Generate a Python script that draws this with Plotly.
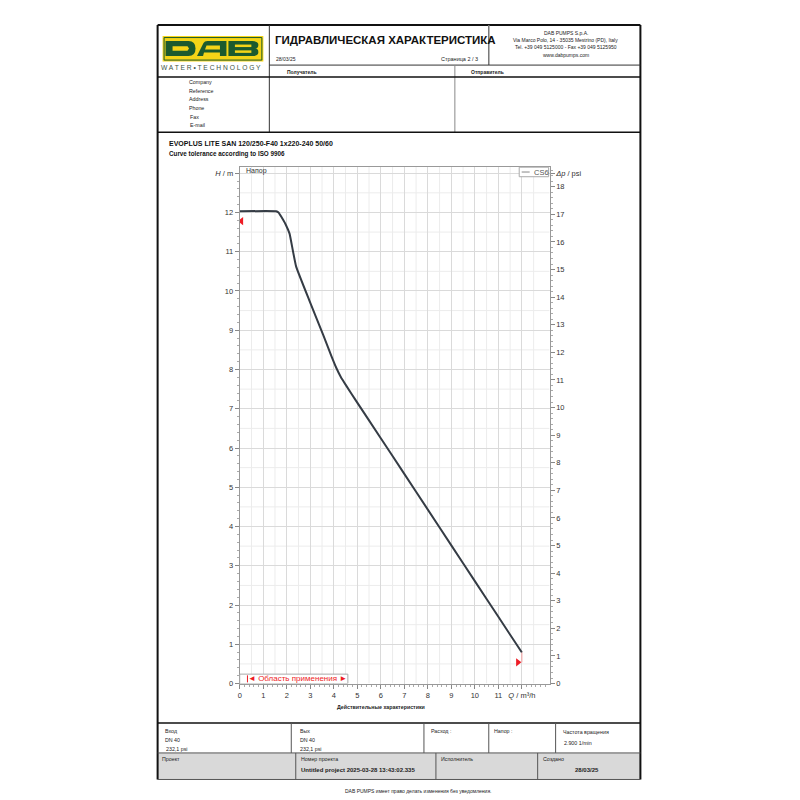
import plotly.graph_objects as go

# ---------------- data ----------------
flow_q = [0, 1.55, 1.65, 1.77, 1.95, 2.12, 2.26, 2.40, 2.96, 3.55, 3.9, 4.1, 4.3, 4.55, 4.95,
          6, 7, 8, 9, 10, 11, 12]
head_h = [12.03, 12.03, 12.0, 11.89, 11.7, 11.46, 11.03, 10.62, 9.76, 8.88, 8.34, 8.05,
          7.81, 7.57, 7.2, 6.25, 5.34, 4.43, 3.52, 2.61, 1.70, 0.79]
series_name = "CS6"
tol_q = [0.07, 11.83]
tol_h = [11.78, 0.54]
x_ticks = [str(i) for i in range(12)] + ["<i>Q</i> / m³/h"]
h_ticks = [str(i) for i in range(13)] + ["<i>H</i> / m"]
psi_ticks = [str(i) for i in range(19)] + ["<i>Δp</i> / psi"]
M_TO_PSI = 1.42233
app_range = [0, 4.6]

FONT = "Liberation Sans, Arial, sans-serif"
W = H = 800
HE = 794.0  # effective rendered height used for conversions

fig = go.Figure()
fig.add_trace(go.Scatter(x=flow_q, y=head_h, mode="lines", name=series_name,
                         line=dict(color="#353c45", width=2, shape="spline", smoothing=0.35),
                         showlegend=False, hoverinfo="skip"))
fig.add_trace(go.Scatter(x=[tol_q[0]], y=[tol_h[0]], mode="markers",
                         marker=dict(symbol="triangle-left", size=7, color="#ee1c25"),
                         showlegend=False, hoverinfo="skip"))
fig.add_trace(go.Scatter(x=[tol_q[1]], y=[tol_h[1]], mode="markers",
                         marker=dict(symbol="triangle-right", size=7, color="#ee1c25"),
                         showlegend=False, hoverinfo="skip"))
fig.add_trace(go.Scatter(x=[flow_q[-1], flow_q[-1]], y=[head_h[-1], tol_h[1]], mode="lines",
                         line=dict(color="#f4a0a0", width=1), showlegend=False, hoverinfo="skip"))
fig.add_trace(go.Scatter(x=[0], y=[0], yaxis="y2", mode="markers", marker=dict(opacity=0),
                         showlegend=False, hoverinfo="skip"))

shapes = []
ann = []


def px(x):
    return x / W


def py(y):
    return 1 - y / HE


def line(x0, y0, x1, y1, c="#222", w=1):
    shapes.append(dict(type="line", xref="paper", yref="paper", x0=px(x0), y0=py(y0),
                       x1=px(x1), y1=py(y1), line=dict(color=c, width=w), layer="above"))


def rect(x0, y0, x1, y1, fill, c=None, w=0, layer="below"):
    shapes.append(dict(type="rect", xref="paper", yref="paper", x0=px(x0), y0=py(y0),
                       x1=px(x1), y1=py(y1), fillcolor=fill,
                       line=dict(color=c or fill, width=w), layer=layer))


def path(segs, fill):
    out = []
    for s in segs:
        cmd = s[0]
        nums = s[1:]
        pts = []
        for i in range(0, len(nums), 2):
            pts.append(f"{px(nums[i]):.5f},{py(nums[i+1]):.5f}")
        out.append(cmd + " ".join(pts))
    shapes.append(dict(type="path", xref="paper", yref="paper", path=" ".join(out),
                       fillcolor=fill, line=dict(width=0), layer="above"))


def text(x, y, s, size=5.5, bold=False, anchor="left", color="#222"):
    if bold:
        s = f"<b>{s}</b>"
    ann.append(dict(x=px(x), y=py(y), xref="paper", yref="paper", text=s, showarrow=False,
                    xanchor=anchor, yanchor="middle",
                    font=dict(family=FONT, size=size, color=color)))


# ---------------- page frame ----------------
rect(156, 752, 640, 778.5, "#d9d9d9")
line(156, 25, 640, 25, "#111", 2)
line(156, 25, 156, 778.5, "#111", 2)
line(640, 25, 640, 778.5, "#111", 2)
line(156, 778.5, 640, 778.5, "#555", 1)
line(268, 25, 268, 132, "#333", 1)
line(488, 25, 488, 65, "#777", 1.5)
line(268, 65, 640, 65, "#333", 1)
line(454, 65, 454, 132, "#888", 1)
line(156, 77, 640, 77, "#111", 1.5)
line(156, 132, 640, 132, "#111", 1.5)
line(156, 722, 640, 722, "#111", 1.5)
for xx in (290, 423, 488, 555):
    line(xx, 722, xx, 752, "#555", 1)
line(156, 752, 640, 752, "#555", 1)
for xx in (294.5, 435, 537):
    line(xx, 752, xx, 778.5, "#555", 1)

# ---------------- logo ----------------
YEL = "#f5d417"
GRN = "#1c5a2e"
rect(161, 36, 262, 61.5, YEL, layer="above")
shapes.append(dict(type="rect", xref="paper", yref="paper", x0=px(162.5), y0=py(37.5),
                   x1=px(260.5), y1=py(60), line=dict(color=GRN, width=1), layer="above"))
# D
path([("M", 164, 41), ("L", 187, 41), ("Q", 194, 41, 194, 48.5), ("Q", 194, 56, 187, 56),
      ("L", 164, 56), ("Z",)], GRN)
path([("M", 171, 46.3), ("L", 186, 46.3), ("L", 187.5, 48.5), ("L", 186, 50.7), ("L", 171, 50.7), ("Z",)], YEL)
# A
path([("M", 195.5, 56), ("L", 202, 43), ("Q", 203, 41, 206, 41), ("L", 225, 41), ("L", 225, 56), ("Z",)], GRN)
path([("M", 205, 45.5), ("L", 218.5, 45.5), ("L", 218.5, 49.5), ("L", 203.5, 49.5), ("Z",)], YEL)
path([("M", 202.5, 52.5), ("L", 218.5, 52.5), ("L", 218.5, 56.2), ("L", 201.5, 56.2), ("Z",)], YEL)
# B
path([("M", 227, 41), ("L", 251, 41), ("Q", 257, 41, 257, 44.8), ("Q", 257, 48.5, 254, 48.5),
      ("Q", 257, 48.5, 257, 52.2), ("Q", 257, 56, 251, 56), ("L", 227, 56), ("Z",)], GRN)
path([("M", 233.5, 44.5), ("L", 250, 44.5), ("L", 250, 47), ("L", 233.5, 47), ("Z",)], YEL)
path([("M", 233.5, 50.3), ("L", 250, 50.3), ("L", 250, 52.8), ("L", 233.5, 52.8), ("Z",)], YEL)
text(210, 67.5, "W A T E R • T E C H N O L O G Y", 6.7, anchor="center", color="#3d5546")

# ---------------- header texts ----------------
text(272, 40, "ГИДРАВЛИЧЕСКАЯ ХАРАКТЕРИСТИКА", 11.5, bold=True, color="#111")
text(273, 58.5, "28/03/25", 5)
text(438, 58.5, "Страница 2 / 3", 5.5)
text(565, 33, "DAB PUMPS S.p.A.", 5, anchor="center")
text(565, 40, "Via Marco Polo, 14 - 35035 Mestrino (PD), Italy", 5, anchor="center")
text(565, 47, "Tel. +39 049 5125000 - Fax +39 049 5125950", 5, anchor="center")
text(565, 54.5, "www.dabpumps.com", 5, anchor="center")
text(284, 72, "Получатель", 5, bold=True)
text(468, 72, "Отправитель", 5, bold=True)
for lbl, yy, xx in [("Company", 82, 185), ("Reference", 90.5, 185), ("Address", 99.3, 185),
                    ("Phone", 108, 185), ("Fax", 116.5, 186), ("E-mail", 124.5, 186)]:
    text(xx, yy, lbl, 5.3)
text(165, 143.3, "EVOPLUS LITE SAN 120/250-F40 1x220-240 50/60", 7, bold=True, color="#111")
text(165, 153.5, "Curve tolerance according to ISO 9906", 6.3, bold=True, color="#111")

# ---------------- bottom blocks ----------------
text(161, 730, "Вход", 5.3)
text(161, 739, "DN 40", 5.3)
text(162, 748.3, "232,1 psi", 5.3)
text(296.5, 730, "Вых", 5.3)
text(296.5, 739, "DN 40", 5.3)
text(297, 748.3, "232,1 psi", 5.3)
text(428, 730, "Расход :", 5.3)
text(491.5, 730, "Напор :", 5.3)
text(560, 731, "Частота вращения", 5.3)
text(561.5, 741.7, "2.900 1/min", 5.3)
text(158, 757.7, "Проект", 5.3)
text(297.5, 757.7, "Номер проекта", 5.3)
text(297.5, 769, "Untitled project 2025-03-28 13:43:02.335", 6, bold=True)
text(438, 757.7, "Исполнитель", 5.3)
text(540, 757.7, "Создано", 5.3)
text(586, 769, "28/03/25", 6, bold=True, anchor="center")
text(418, 790, "DAB PUMPS имеет право делать изменения без уведомления.", 5, anchor="center")

# ---------------- chart extras ----------------
XR = [0, 13.18]
YR = [0, 13.16]
for v in [i + 0.5 for i in range(13)]:
    if v < XR[1]:
        shapes.append(dict(type="line", xref="x", yref="y", x0=v, x1=v, y0=YR[0], y1=YR[1],
                           line=dict(color="#ececec", width=1), layer="below"))
    if v < YR[1]:
        shapes.append(dict(type="line", xref="x", yref="y", x0=XR[0], x1=XR[1], y0=v, y1=v,
                           line=dict(color="#ececec", width=1), layer="below"))
shapes.append(dict(type="rect", xref="x", yref="y", x0=app_range[0], x1=app_range[1], y0=0, y1=0.24,
                   fillcolor="white", line=dict(color="#aaaaaa", width=1), layer="above"))
shapes.append(dict(type="line", xref="x", yref="y", x0=0.33, x1=0.33, y0=0.03, y1=0.21,
                   line=dict(color="#ee1c25", width=1), layer="above"))
ann.append(dict(x=2.45, y=0.125, xref="x", yref="y", text="◄ Область применения ►", showarrow=False,
                xanchor="center", yanchor="middle", font=dict(family=FONT, size=8, color="#ee1c25")))
ann.append(dict(x=0.2, y=py(170.7), xref="x", yref="paper", text="Напор", showarrow=False,
                xanchor="left", yanchor="middle", font=dict(family=FONT, size=7, color="#333")))
rect(518.5, 167, 548, 176.5, "white", "#aaaaaa", 1, layer="above")
line(521, 171.8, 529, 171.8, "#888", 1)
text(531, 171.8, series_name, 7.5, color="#555")
text(380, 706, "Действительные характеристики", 5.3, bold=True, anchor="center")

axis_font = dict(family=FONT, size=7.5, color="#333")
fig.update_layout(
    width=W, height=H, margin=dict(l=0, r=0, t=0, b=0),
    paper_bgcolor="white", plot_bgcolor="white",
    showlegend=False,
    shapes=shapes, annotations=ann,
    xaxis=dict(domain=[238.3 / W, 549 / W], range=XR, tickmode="array",
               tickvals=list(range(13)), ticktext=x_ticks, ticks="outside", ticklen=4,
               tickcolor="#888", showline=True, linecolor="#999", mirror=True,
               showgrid=True, gridcolor="#dadada", zeroline=False, tickfont=axis_font,
               minor=dict(tickmode="linear", tick0=0, dtick=0.2, ticks="outside", ticklen=2,
                          tickcolor="#aaa", showgrid=False)),
    yaxis=dict(domain=[py(682.7), py(166.7)], range=YR, tickmode="array",
               tickvals=list(range(14)), ticktext=h_ticks, ticks="outside", ticklen=4,
               tickcolor="#888", showline=True, linecolor="#999", mirror=True,
               showgrid=True, gridcolor="#dadada", zeroline=False, tickfont=axis_font,
               minor=dict(tickmode="linear", tick0=0, dtick=0.2, ticks="outside", ticklen=2,
                          tickcolor="#aaa", showgrid=False)),
    yaxis2=dict(overlaying="y", side="right", range=[YR[0] * M_TO_PSI, YR[1] * M_TO_PSI],
                tickmode="array", tickvals=list(range(19)) + [13 * M_TO_PSI],
                ticktext=psi_ticks, ticks="outside", ticklen=4, tickcolor="#888",
                showline=False, showgrid=False, zeroline=False, tickfont=axis_font,
                minor=dict(tickmode="linear", tick0=0, dtick=0.2, ticks="outside", ticklen=2,
                           tickcolor="#aaa", showgrid=False)),
)

fig.write_html("out.html")
